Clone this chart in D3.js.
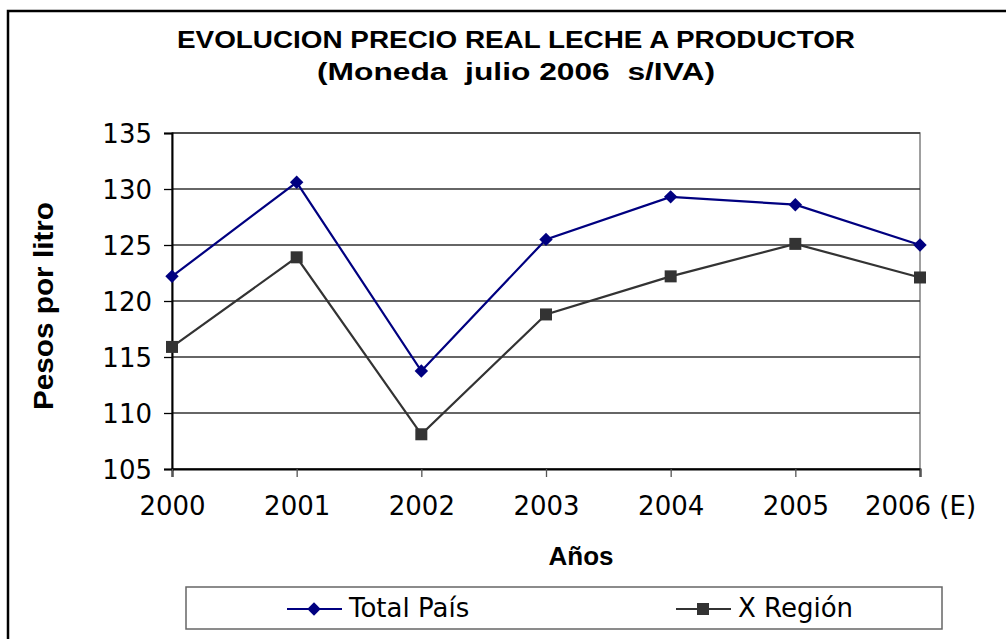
<!DOCTYPE html>
<html>
<head>
<meta charset="utf-8">
<script src="https://cdn.jsdelivr.net/npm/d3@7"></script>
<style>
  html, body { margin: 0; padding: 0; background: #fff; }
  svg { display: block; }
</style>
</head>
<body>
<svg id="chart" width="1006" height="639"></svg>
<script>
// Data
const years = ["2000", "2001", "2002", "2003", "2004", "2005", "2006 (E)"];
const totalPais = [122.2, 130.6, 113.75, 125.5, 129.3, 128.6, 125.0];
const xRegion = [115.9, 123.9, 108.1, 118.8, 122.2, 125.1, 122.1];
const yTicks = [105, 110, 115, 120, 125, 130, 135];

const seriesNames = ["Total País", "X Región"];
const seriesColors = ["#000080", "#333333"];

const svg = d3.select("#chart");

// Outer chart frame
svg.append("rect")
  .attr("x", 8).attr("y", 11)
  .attr("width", 1100).attr("height", 700)
  .attr("fill", "#fff").attr("stroke", "#000").attr("stroke-width", 2.5);

const plot = { left: 172, right: 920, top: 133, bottom: 469 };

const x = d3.scalePoint().domain(years).range([plot.left, plot.right]);
const y = d3.scaleLinear().domain([105, 135]).range([plot.bottom, plot.top]);

// Plot area border
svg.append("rect")
  .attr("x", plot.left).attr("y", plot.top)
  .attr("width", plot.right - plot.left).attr("height", plot.bottom - plot.top)
  .attr("fill", "none").attr("stroke", "#808080").attr("stroke-width", 1.5);

// Horizontal gridlines
svg.append("g")
  .selectAll("line")
  .data(yTicks)
  .join("line")
  .attr("x1", plot.left).attr("x2", plot.right)
  .attr("y1", d => y(d)).attr("y2", d => y(d))
  .attr("stroke", "#333").attr("stroke-width", 1.3);

// Y axis
const yAxis = svg.append("g")
  .attr("transform", `translate(${plot.left},0)`)
  .call(d3.axisLeft(y).tickValues(yTicks).tickSize(8).tickPadding(12));
yAxis.select(".domain").attr("stroke", "#000").attr("stroke-width", 2);
yAxis.selectAll(".tick line").attr("stroke", "#000").attr("stroke-width", 1.3);
yAxis.selectAll("text")
  .attr("font-family", "'DejaVu Sans', Verdana, sans-serif")
  .attr("font-size", 26).attr("fill", "#000").attr("dy", "0.36em");

// X axis
const xAxis = svg.append("g")
  .attr("transform", `translate(0,${plot.bottom})`)
  .call(d3.axisBottom(x).tickSize(8).tickPadding(20));
xAxis.select(".domain").attr("stroke", "#000").attr("stroke-width", 2);
xAxis.selectAll(".tick line").attr("stroke", "#555").attr("stroke-width", 1.3);
xAxis.selectAll("text")
  .attr("font-family", "'DejaVu Sans', Verdana, sans-serif")
  .attr("font-size", 26).attr("fill", "#000");

// Series lines and markers
const seriesData = [totalPais, xRegion];
const line = d3.line().x((d, i) => x(years[i])).y(d => y(d));

seriesData.forEach((vals, s) => {
  svg.append("path")
    .datum(vals)
    .attr("d", line)
    .attr("fill", "none")
    .attr("stroke", seriesColors[s])
    .attr("stroke-width", 2.2);
});

const diamond = d3.symbol().type(d3.symbolSquare).size(90);
svg.append("g").selectAll("path")
  .data(totalPais)
  .join("path")
  .attr("d", diamond)
  .attr("transform", (d, i) => `translate(${x(years[i])},${y(d)}) rotate(45)`)
  .attr("fill", seriesColors[0]);

const sq = 12;
svg.append("g").selectAll("rect")
  .data(xRegion)
  .join("rect")
  .attr("x", (d, i) => x(years[i]) - sq / 2)
  .attr("y", d => y(d) - sq / 2)
  .attr("width", sq).attr("height", sq)
  .attr("fill", seriesColors[1]);

// Titles
const titleFont = "'Liberation Sans', Arial, sans-serif";
svg.append("text")
  .attr("x", 516).attr("y", 48)
  .attr("text-anchor", "middle")
  .attr("font-family", titleFont).attr("font-weight", "bold").attr("font-size", 23.5)
  .attr("textLength", 678).attr("lengthAdjust", "spacingAndGlyphs")
  .text("EVOLUCION PRECIO REAL LECHE A PRODUCTOR");

svg.append("text")
  .attr("x", 516).attr("y", 80)
  .attr("text-anchor", "middle")
  .attr("font-family", titleFont).attr("font-weight", "bold").attr("font-size", 23.5)
  .attr("xml:space", "preserve")
  .style("white-space", "pre")
  .attr("textLength", 398).attr("lengthAdjust", "spacingAndGlyphs")
  .text("(Moneda  julio 2006  s/IVA)");

svg.append("text")
  .attr("transform", "translate(53,306) rotate(-90)")
  .attr("text-anchor", "middle")
  .attr("font-family", titleFont).attr("font-weight", "bold").attr("font-size", 27)
  .attr("textLength", 208).attr("lengthAdjust", "spacingAndGlyphs")
  .text("Pesos por litro");

svg.append("text")
  .attr("x", 581).attr("y", 565)
  .attr("text-anchor", "middle")
  .attr("font-family", titleFont).attr("font-weight", "bold").attr("font-size", 26)
  .text("Años");

// Legend
const legend = svg.append("g");
legend.append("rect")
  .attr("x", 186).attr("y", 587)
  .attr("width", 756).attr("height", 42)
  .attr("fill", "#fff").attr("stroke", "#666").attr("stroke-width", 1.5);

const legendX = [287, 676];
const legendY = 609;
seriesNames.forEach((name, s) => {
  const g = legend.append("g").attr("transform", `translate(${legendX[s]},${legendY})`);
  g.append("line")
    .attr("x1", 0).attr("x2", 55).attr("y1", 0).attr("y2", 0)
    .attr("stroke", seriesColors[s]).attr("stroke-width", 2.2);
  if (s === 0) {
    g.append("path").attr("d", diamond)
      .attr("transform", "translate(27,0) rotate(45)")
      .attr("fill", seriesColors[s]);
  } else {
    g.append("rect").attr("x", 21).attr("y", -6).attr("width", 12).attr("height", 12)
      .attr("fill", seriesColors[s]);
  }
  g.append("text")
    .attr("x", 62).attr("y", 8)
    .attr("font-family", "'DejaVu Sans', Verdana, sans-serif")
    .attr("font-size", 26).attr("fill", "#000")
    .text(name);
});
</script>
</body>
</html>
